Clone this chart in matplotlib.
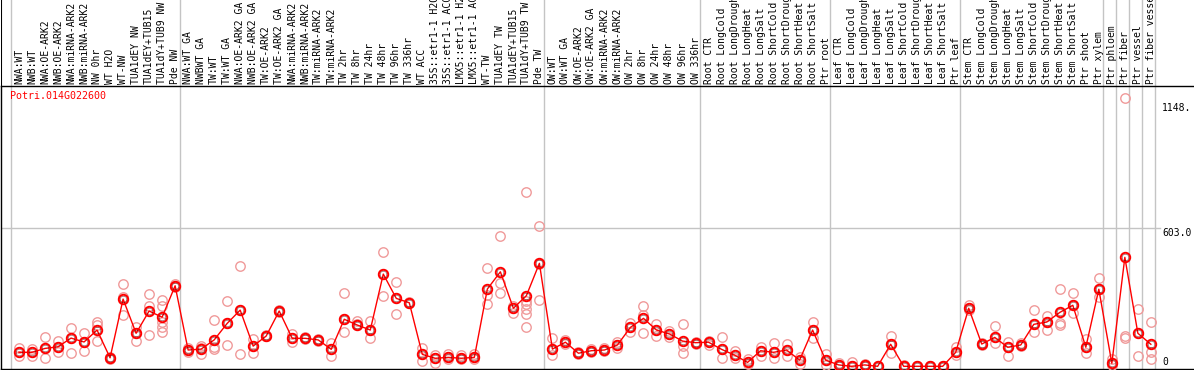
import matplotlib
matplotlib.use("Agg")
import matplotlib.pyplot as plt
import matplotlib.transforms as mtransforms

W, H = 1194, 370

title = "Potri.014G022600"

labels = [
    "NWA:WT", "NWB:WT", "NWA:OE-ARK2", "NWB:OE-ARK2", "NWA:miRNA-ARK2", "NWB:miRNA-ARK2",
    "NW 0hr", "WT H2O", "WT-NW", "TUA1dEY NW", "TUA1dEY+TUB15", "TUA1dY+TUB9 NW", "Pde NW",
    "NWA:WT GA", "NWBWT GA", "TW:WT", "TW:WT GA", "NWA:OE-ARK2 GA", "NWB:OE-ARK2 GA",
    "TW:OE-ARK2", "TW:OE-ARK2 GA", "NWA:miRNA-ARK2", "NWB:miRNA-ARK2", "TW:miRNA-ARK2",
    "TW:miRNA-ARK2", "TW 2hr", "TW 8hr", "TW 24hr", "TW 48hr", "TW 96hr", "TW 336hr",
    "WT ACC", "35S::etr1-1 H2O", "35S::etr1-1 ACC", "LMX5::etr1-1 H2O", "LMX5::etr1-1 ACC",
    "WT-TW", "TUA1dEY TW", "TUA1dEY+TUB15", "TUA1dY+TUB9 TW", "Pde TW",
    "OW:WT", "OW:WT GA", "OW:OE-ARK2", "OW:OE-ARK2 GA", "OW:miRNA-ARK2", "OW:miRNA-ARK2",
    "OW 2hr", "OW 8hr", "OW 24hr", "OW 48hr", "OW 96hr", "OW 336hr",
    "Root CTR", "Root LongCold", "Root LongDrought", "Root LongHeat", "Root LongSalt",
    "Root ShortCold", "Root ShortDrought", "Root ShortHeat", "Root ShortSalt", "Ptr root",
    "Leaf CTR", "Leaf LongCold", "Leaf LongDrought", "Leaf LongHeat", "Leaf LongSalt",
    "Leaf ShortCold", "Leaf ShortDrought", "Leaf ShortHeat", "Leaf ShortSalt", "Ptr leaf",
    "Stem CTR", "Stem LongCold", "Stem LongDrought", "Stem LongHeat", "Stem LongSalt",
    "Stem ShortCold", "Stem ShortDrought", "Stem ShortHeat", "Stem ShortSalt", "Ptr shoot",
    "Ptr xylem", "Ptr phloem", "Ptr fiber", "Ptr vessel", "Ptr fiber vessel",
]

means = [
    61, 61, 78, 85, 123, 106, 158, 37, 293, 144, 241, 214, 351,
    71, 75, 115, 187, 245, 88, 132, 241, 122, 122, 115, 74, 205, 180, 158, 402, 296, 277,
    52, 35, 39, 35, 39, 337, 412, 253, 308, 449,
    75, 105, 57, 68, 71, 93, 170, 209, 158, 141, 110, 103,
    105, 74, 49, 17, 68, 61, 71, 27, 158, 27,
    6, 0, 6, 0, 96, 0, 0, 0, 0, 61,
    253, 97, 126, 83, 93, 183, 193, 235, 266, 83,
    336, 13, 475, 144, 96,
]

replicates = [
    [78, 45, 61], [74, 45, 61], [129, 35, 78], [110, 61, 85], [166, 57, 123], [144, 67, 106],
    [195, 180, 110], [30, 42, 37], [357, 222, 300], [173, 112, 144], [314, 263, 135],
    [289, 263, 195, 151, 172], [360, 345, 351],
    [80, 62, 71], [88, 54, 80], [202, 85, 75], [285, 92, 187], [437, 52, 245], [119, 60, 88],
    [135, 130, 132], [245, 238, 241], [141, 107, 122], [128, 118, 122], [118, 112, 115],
    [100, 46, 74], [321, 148, 205], [199, 180, 185], [199, 122, 158], [497, 307, 402],
    [366, 228, 296], [280, 274, 277], [78, 23, 52], [48, 13, 35], [52, 30, 39], [48, 30, 35],
    [52, 30, 39], [427, 311, 272], [568, 362, 318], [263, 234, 253],
    [759, 286, 270, 250, 228, 170], [610, 289, 448],
    [122, 49, 75], [115, 98, 105], [62, 52, 57], [75, 62, 68], [78, 65, 71], [107, 80, 93],
    [187, 151, 170], [263, 224, 144], [184, 132, 158], [155, 128, 141], [184, 88, 57],
    [108, 98, 103],
    [110, 93, 105], [129, 35, 74], [65, 35, 49], [30, 10, 17], [85, 45, 68], [103, 35, 61],
    [96, 45, 71], [40, 9, 27], [192, 125, 158], [54, 6, 27],
    [15, 6, 0], [17, 0, 0], [10, 6, 0], [0, 0, 0], [133, 59, 96], [6, 0, 0], [0, 0, 0],
    [0, 0, 0], [0, 0, 0], [85, 48, 61],
    [267, 253, 245], [100, 93, 97], [176, 100, 126], [107, 45, 83], [100, 93, 88],
    [245, 148, 183], [219, 158, 193], [336, 187, 180], [318, 231, 266], [118, 57, 83],
    [384, 303, 336], [31, 5, 13], [1168, 132, 122], [249, 45, 144], [192, 61, 31],
]

# group boundaries: separator drawn after these column indices
group_ends = [-1, 12, 40, 52, 62, 72, 83, 84, 85, 86, 87]

ytick_vals = [0, 603.0, 1148.0]
ytick_text = ["0", "603.0", "1148."]

# ---------------------------------------------------------------
fig = plt.figure(figsize=(W / 100, H / 100), dpi=100)
FONT = "DejaVu Sans Mono"

px = mtransforms.Affine2D().scale(1 / W, -1 / H).translate(0, 1) + fig.transFigure

top_px, bot_px = 85.7, 368.7
axh = fig.add_axes([1 / W, (H - top_px) / H, (W - 1) / W, top_px / H])
ax = fig.add_axes([1 / W, (H - bot_px) / H, (W - 1) / W, (bot_px - top_px) / H])
axh.patch.set_visible(False)
ax.patch.set_visible(False)

step = 13.01
x0px = 19.0
xmin = (1 - x0px) / step
xmax = (W - x0px) / step
for a in (ax, axh):
    a.set_xlim(xmin, xmax)
    a.set_xticks([])
    a.set_yticks([])
axh.set_ylim(0, 1)
for s in axh.spines.values():
    s.set_visible(False)

# y mapping: value 0 at pixel 366.3, 4.36 units per pixel
scale = 4.36
zero_px = 366.3
ax.set_ylim((zero_px - bot_px) * scale, (zero_px - top_px) * scale)

ax.spines["right"].set_visible(False)
for s in ["left", "top", "bottom"]:
    ax.spines[s].set_color("black")
    ax.spines[s].set_linewidth(1.0)

grey = "#c4c4c4"
for g in group_ends:
    xs = g + 4.6 / step
    ax.axvline(xs, color=grey, lw=1.0, zorder=1)
    axh.axvline(xs, color=grey, lw=1.0, zorder=1)
# left border across header
axh.axvline(xmin, color="black", lw=1.5, zorder=3)

ax.axhline(603.0, xmin=0, xmax=(1160 - 1) / (W - 1), color=grey, lw=1.0, zorder=1)

# header labels
bt = mtransforms.blended_transform_factory(axh.transData, px)
for i, lab in enumerate(labels):
    axh.text(i, 84.0, lab, rotation=90, ha="center", va="bottom", fontsize=7,
             family=FONT, color="black", transform=bt, clip_on=False)

# replicates
for i, reps in enumerate(replicates):
    ax.plot([i] * len(reps), reps, linestyle="none", marker="o", ms=6.8,
            mfc="none", mec="#f09a9a", mew=1.0, zorder=3, clip_on=True)

xs = list(range(len(means)))
ax.plot(xs, means, color="red", lw=1.0, zorder=4)
ax.plot(xs, means, linestyle="none", marker="o", ms=6.8, mfc="none", mec="red",
        mew=1.4, zorder=5)
ax.plot(xs, means, linestyle="none", marker="o", ms=4.8, mfc="none", mec="#500000",
        mew=0.3, zorder=6)

# title
fig.text(10, 91.0, title, transform=px, ha="left", va="top", fontsize=7.2,
         family=FONT, color="red")

# y tick labels
yt = mtransforms.blended_transform_factory(px, ax.transData)
for v, t in zip(ytick_vals, ytick_text):
    va = "bottom" if v == 0 else "top"
    ax.text(1162, v + (0 if v else -2), t, transform=yt, ha="left", va=va,
            fontsize=7, family=FONT, color="black", clip_on=False)

fig.savefig("out.png", dpi=100)
